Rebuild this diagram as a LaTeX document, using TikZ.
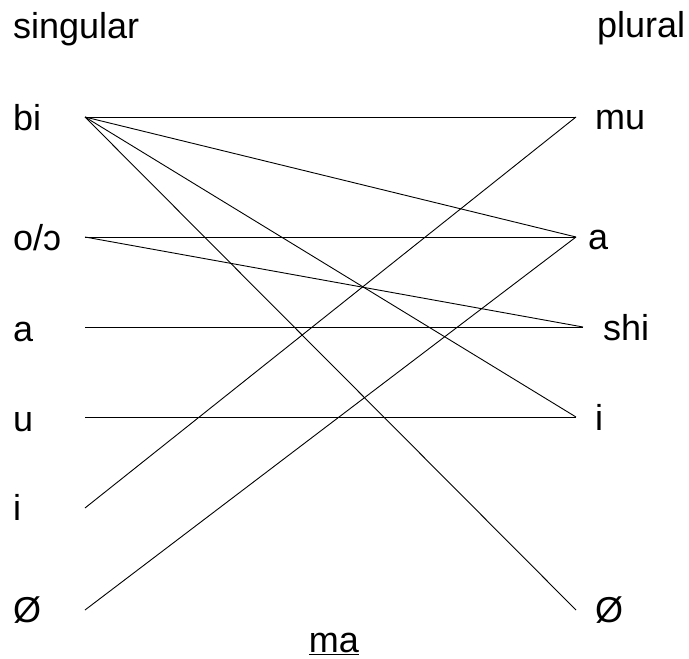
\documentclass[tikz,border=0pt]{standalone}
\usepackage{fontspec}
\setmainfont{Liberation Sans}
\begin{document}
\begin{tikzpicture}[x=1pt,y=-1pt,
  lbl/.style={anchor=base west,inner sep=0pt,font=\fontsize{36}{40}\selectfont},
  link/.style={line width=0.9pt,black}]
\useasboundingbox (0,0) rectangle (689,659);
% headers
\node[lbl] (hsg) at (13,38) {singular};
\node[lbl] (hpl) at (597,37) {plural};
% left labels
\node[lbl] (tbi) at (13,130) {bi};
\node[lbl] (to)  at (13,250) {o/ɔ};
\node[lbl] (ta)  at (13,341) {a};
\node[lbl] (tu)  at (13,431) {u};
\node[lbl] (ti)  at (13,520) {i};
\node[lbl] (tz)  at (13,622) {Ø};
% right labels
\node[lbl] (rmu)  at (595,129) {mu};
\node[lbl] (ra)   at (588,249) {a};
\node[lbl] (rshi) at (603,340) {shi};
\node[lbl] (ri)   at (595,430) {i};
\node[lbl] (rz)   at (595,622) {Ø};
% bottom
\node[lbl,anchor=base] (ma) at (334,652) {\underline{ma}};
% endpoints
\coordinate (Lbi) at (85,117);
\coordinate (Lo)  at (85,237);
\coordinate (La)  at (85,327);
\coordinate (Lu)  at (85,417);
\coordinate (Li)  at (85,508);
\coordinate (Lz)  at (85,610);
\coordinate (Rmu)  at (576,117);
\coordinate (Ra)   at (576,237);
\coordinate (Rshi) at (583,327);
\coordinate (Ri)   at (576,417);
\coordinate (Rz)   at (576,610);
% connectors
\draw[link] (Lbi) -- (Rmu);
\draw[link] (Lbi) -- (Ra);
\draw[link] (Lbi) -- (Ri);
\draw[link] (Lbi) -- (Rz);
\draw[link] (Lo) -- (Ra);
\draw[link] (Lo) -- (Rshi);
\draw[link] (La) -- (Rshi);
\draw[link] (Lu) -- (Ri);
\draw[link] (Li) -- (Rmu);
\draw[link] (Lz) -- (Ra);
\end{tikzpicture}
\end{document}
